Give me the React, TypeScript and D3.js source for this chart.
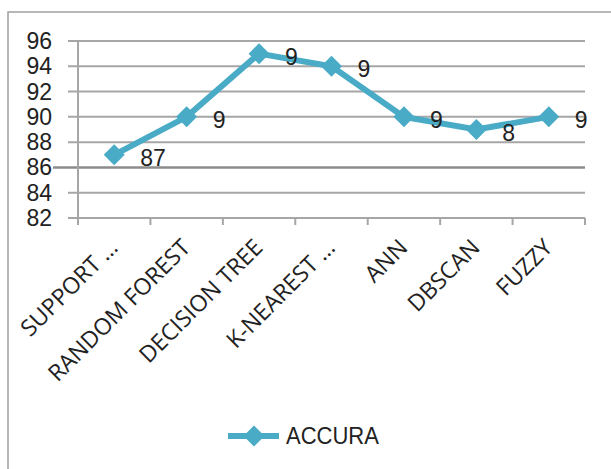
import React, { useRef, useEffect } from 'react';
import * as d3 from 'd3';

const categories = ['SUPPORT …', 'RANDOM FOREST', 'DECISION TREE', 'K-NEAREST …', 'ANN', 'DBSCAN', 'FUZZY'];
const accuracy = [87, 90, 95, 94, 90, 89, 90];
const pointLabels = ['87', '9', '9', '9', '9', '8', '9'];
const yTicks = [82, 84, 86, 88, 90, 92, 94, 96];
const seriesName = 'ACCURA';

export default function App() {
  const svgRef = useRef<SVGSVGElement>(null);

  useEffect(() => {
    const w = 611;
    const h = 469;
    const color = '#4aabc6';
    const grid = '#a6a6a6';
    const svg = d3.select(svgRef.current);
    svg.selectAll('*').remove();
    svg.attr('width', w).attr('height', h);

    // outer frame
    svg
      .append('rect')
      .attr('x', 8)
      .attr('y', 12)
      .attr('width', w)
      .attr('height', h)
      .attr('fill', 'white')
      .attr('stroke', '#a0a0a0')
      .attr('stroke-width', 1.5);

    const xScale = d3.scaleBand<string>().domain(categories).range([78, 585]);
    const yScale = d3.scaleLinear().domain([82, 96]).range([218, 41]);

    // gridlines
    svg
      .append('g')
      .selectAll('line')
      .data(yTicks)
      .join('line')
      .attr('x1', (d) => (d === 86 ? 53 : 68))
      .attr('x2', 585)
      .attr('y1', (d) => yScale(d))
      .attr('y2', (d) => yScale(d))
      .attr('stroke', (d) => (d === 86 ? '#8c8c8c' : grid))
      .attr('stroke-width', (d) => (d === 86 ? 2.5 : 2));

    // y axis line
    svg
      .append('line')
      .attr('x1', 78)
      .attr('x2', 78)
      .attr('y1', yScale(96))
      .attr('y2', yScale(82) + 7)
      .attr('stroke', grid)
      .attr('stroke-width', 2);

    // category ticks
    const bounds = categories.map((c) => xScale(c)!).concat([585]);
    svg
      .append('g')
      .selectAll('line')
      .data(bounds)
      .join('line')
      .attr('x1', (d) => d)
      .attr('x2', (d) => d)
      .attr('y1', yScale(82))
      .attr('y2', yScale(82) + 7)
      .attr('stroke', grid)
      .attr('stroke-width', 2);

    // y tick labels
    svg
      .append('g')
      .selectAll('text')
      .data(yTicks)
      .join('text')
      .attr('x', 52)
      .attr('y', (d) => yScale(d))
      .attr('dy', '0.35em')
      .attr('text-anchor', 'end')
      .attr('font-family', 'Liberation Sans, Arial, sans-serif')
      .attr('font-size', 23)
      .attr('fill', '#222')
      .text((d) => d);

    // x labels
    svg
      .append('g')
      .selectAll('text')
      .data(categories)
      .join('text')
      .attr('transform', (d) => `translate(${xScale(d)! + xScale.bandwidth() / 2 + 5},249) rotate(-45)`)
      .attr('text-anchor', 'end')
      .attr('font-family', 'Open Sans, sans-serif')
      .attr('font-size', 23)
      .attr('fill', '#222')
      .text((d) => d);

    const cx = (i: number) => xScale(categories[i])! + xScale.bandwidth() / 2;

    // series line
    const line = d3
      .line<number>()
      .x((d, i) => cx(i))
      .y((d) => yScale(d));
    svg
      .append('path')
      .datum(accuracy)
      .attr('d', line)
      .attr('fill', 'none')
      .attr('stroke', color)
      .attr('stroke-width', 6);

    const diamond = d3.symbol().type(d3.symbolSquare).size(220);
    svg
      .append('g')
      .selectAll('path')
      .data(accuracy)
      .join('path')
      .attr('d', diamond)
      .attr('transform', (d, i) => `translate(${cx(i)},${yScale(d)}) rotate(45)`)
      .attr('fill', color);

    // point labels
    svg
      .append('g')
      .selectAll('text')
      .data(accuracy)
      .join('text')
      .attr('x', (d, i) => cx(i) + 26)
      .attr('y', (d) => yScale(d) + 3)
      .attr('dy', '0.35em')
      .attr('font-family', 'Liberation Sans, Arial, sans-serif')
      .attr('font-size', 23)
      .attr('fill', '#222')
      .text((d, i) => pointLabels[i]);

    // legend
    const legend = svg.append('g').attr('transform', 'translate(228,436)');
    legend
      .append('line')
      .attr('x1', 0)
      .attr('x2', 51)
      .attr('stroke', color)
      .attr('stroke-width', 6);
    legend
      .append('path')
      .attr('d', diamond)
      .attr('transform', 'translate(26,0) rotate(45)')
      .attr('fill', color);
    legend
      .append('text')
      .attr('x', 58)
      .attr('dy', '0.35em')
      .attr('font-family', 'Liberation Sans, Arial, sans-serif')
      .attr('font-size', 22)
      .attr('transform', 'scale(1,1.1)')
      .text(seriesName)
      .attr('fill', '#222');
  }, []);

  return <svg ref={svgRef} style={{ position: 'absolute', left: 0, top: 0 }}></svg>;
}
